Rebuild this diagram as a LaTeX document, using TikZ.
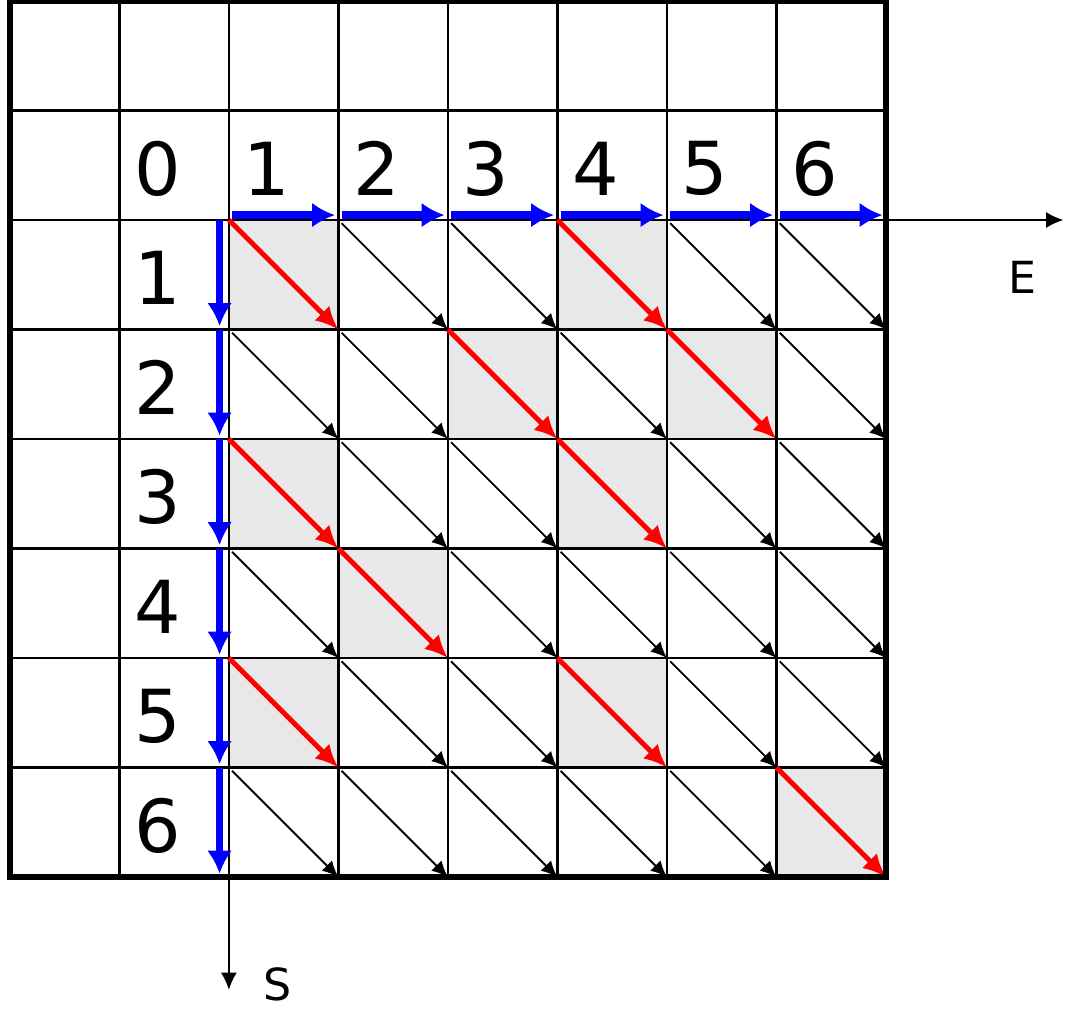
\documentclass[tikz,border=0pt]{standalone}
\usepackage{fontspec}
\setmainfont{DejaVu Sans}
\usetikzlibrary{arrows.meta}
\tikzset{
  gridline/.style={
    draw=black,
    line width=0.6pt
  },
  frame/.style={
    draw=black,
    line width=1.7pt
  },
  hitcell/.style={
    fill=gray!18
  },
  walkarrow/.style={
    -{Latex[length=6pt,width=6.5pt]},
    draw=blue,
    line width=1.9pt
  },
  hitarrow/.style={
    -{Latex[length=6pt,width=5.5pt]},
    draw=red,
    line width=1.3pt
  },
  steparrow/.style={
    -{Latex[length=4.2pt,width=3.8pt]},
    draw=black,
    line width=0.5pt
  },
  axis/.style={
    -{Latex[length=4.5pt,width=4.2pt]},
    draw=black,
    line width=0.5pt
  },
  numlabel/.style={
    font=\fontsize{19}{21}\selectfont,
    inner sep=0pt
  },
  axislabel/.style={
    font=\fontsize{11.5}{13}\selectfont,
    inner sep=0pt
  }
}

\begin{document}
\begin{tikzpicture}
  \useasboundingbox (-0.09,-1.196) rectangle (9.635,8.009);
  % shaded cells (row/column)
  \foreach \i/\j in {1/1,1/4,2/3,2/5,3/1,3/4,4/2,5/1,5/4,6/6} {
    \fill[hitcell] (\j+1,7-\i) rectangle (\j+2,6-\i);
    \expandafter\gdef\csname hit\i-\j\endcsname{}
  }
  % grid
  \foreach \k in {1,...,7} {
    \draw[gridline] (\k,0) -- (\k,8);
    \draw[gridline] (0,\k) -- (8,\k);
  }
  % axes
  \coordinate (origin) at (2,6);
  \coordinate (foot) at (2,0);
  \coordinate (eend) at (9.62,6);
  \coordinate (send) at (2,-1.03);
  \draw[axis] (origin) -- (eend);
  \draw[axis] (foot) -- (send);
  \node[axislabel] (elabel) at (9.25,5.48) {E};
  \node[axislabel] (slabel) at (2.44,-0.98) {S};
  % diagonal steps
  \foreach \i in {1,...,6} {
    \foreach \j in {1,...,6} {
      \coordinate (a\i-\j) at (\j+1,7-\i);
      \coordinate (b\i-\j) at (\j+2,6-\i);
      \ifcsname hit\i-\j\endcsname
        \draw[hitarrow] (a\i-\j) -- (b\i-\j);
      \else
        \draw[steparrow, shorten <=1.2pt] (a\i-\j) -- (b\i-\j);
      \fi
    }
  }
  % walk along the axes
  \foreach \n in {1,...,6} {
    \coordinate (e\n) at (\n+1.03,6.045);
    \coordinate (f\n) at (\n+1.97,6.045);
    \coordinate (s\n) at (1.915,7-\n);
    \coordinate (t\n) at (1.915,6.03-\n);
    \draw[walkarrow] (e\n) -- (f\n);
    \draw[walkarrow] (s\n) -- (t\n);
  }
  \draw[frame] (0,0) rectangle (8,8);
  % numbers
  \node[numlabel] (zero) at (1.35,6.47) {0};
  \foreach \n in {1,...,6} {
    \node[numlabel] (col\n) at (\n+1.35,6.47) {\n};
    \node[numlabel] (row\n) at (1.35,6.47-\n) {\n};
  }
\end{tikzpicture}
\end{document}
